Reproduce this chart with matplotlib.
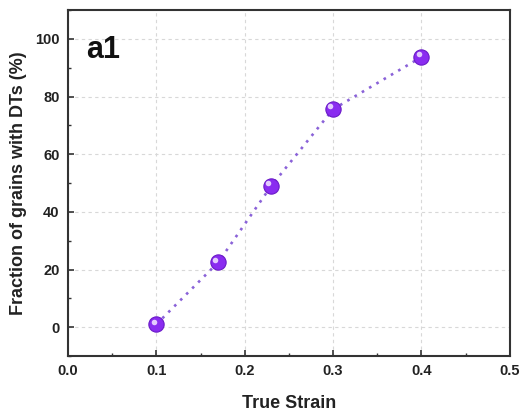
import numpy as np
import matplotlib
matplotlib.use('Agg')
import matplotlib.pyplot as plt
from matplotlib.transforms import offset_copy

# 数据
strain = [0.1, 0.17, 0.23, 0.3, 0.4]
fraction = [1.0, 22.5, 49.0, 75.6, 93.7]
x_ticks = [0.0, 0.1, 0.2, 0.3, 0.4, 0.5]
y_ticks = [0, 20, 40, 60, 80, 100]

plt.rcParams['font.family'] = ['Liberation Sans', 'DejaVu Sans']
plt.rcParams['font.weight'] = 'bold'

fig = plt.figure(figsize=(5.24, 4.12), dpi=100)
ax = fig.add_axes([0.1298, 0.1359, 0.8432, 0.8398])

# 虚线连线
ax.plot(strain, fraction, linestyle=(0, (1, 2.2)), color='#8a62d8', linewidth=1.9, zorder=2)
# 球形标记
ax.plot(strain, fraction, linestyle='none', marker='o', markersize=11,
        markerfacecolor='#8a2cf0', markeredgecolor='#6a1ac8', markeredgewidth=0.8, zorder=3)
# 高光
hl = offset_copy(ax.transData, fig=fig, x=-2.0, y=2.0, units='points')
ax.plot(strain, fraction, linestyle='none', marker='o', markersize=4,
        markerfacecolor='#eedfff', markeredgecolor='none', alpha=0.9,
        transform=hl, zorder=4)

ax.set_xlim(0.0, 0.5)
ax.set_ylim(-10, 110)
ax.set_xticks(x_ticks)
ax.set_yticks(y_ticks)
ax.set_xticks([0.05, 0.15, 0.25, 0.35, 0.45], minor=True)
ax.set_yticks([-10, 10, 30, 50, 70, 90, 110], minor=True)
ax.set_xticklabels(['%.1f' % v for v in x_ticks])

ax.tick_params(which='both', direction='in', color='#333333', top=False, right=False)
ax.tick_params(which='major', length=4, width=1.2, labelsize=10.5, pad=6, labelcolor='#222222')
ax.tick_params(which='minor', length=2.5, width=1.0)

ax.grid(True, which='major', linestyle=(0, (3, 3)), color='#d8d8d8', linewidth=0.8)
ax.set_axisbelow(True)
for s in ax.spines.values():
    s.set_linewidth(1.5)
    s.set_color('#333333')

ax.set_xlabel('True Strain', fontsize=13, fontweight='bold', color='#222222', labelpad=12)
ax.set_ylabel('Fraction of grains with DTs (%)', fontsize=13, fontweight='bold',
              color='#222222', labelpad=6)
ax.text(0.04, 0.885, 'a1', transform=ax.transAxes, fontsize=22, fontweight='bold',
        color='#111111', va='center')

plt.savefig('out.png', dpi=100)
